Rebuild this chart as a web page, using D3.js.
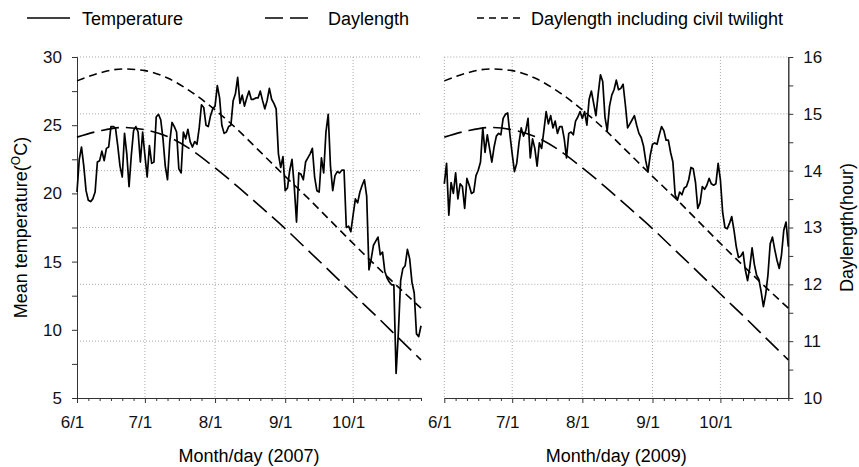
<!DOCTYPE html>
<html>
<head>
<meta charset="utf-8">
<script src="https://cdn.jsdelivr.net/npm/d3@7"></script>
<style>
  body { margin: 0; background: #fff; }
  svg { font-family: Arial, "Liberation Sans", sans-serif; }
  .axis path, .axis line { stroke: #333; }
  .axis text { font-size: 17px; fill: #111; font-family: Arial, "Liberation Sans", sans-serif; }
</style>
</head>
<body>
<div id="chart"></div>
<script>

// daily mean temperature, 6/1 .. 10/31
const temp2007 = [
    20.1, 22.5, 23.4, 22.0, 20.2, 19.5, 19.4, 19.6, 20.1, 22.3,
    22.4, 23.1, 22.4, 23.3, 23.4, 24.9, 24.9, 24.8, 23.5, 22.0,
    21.2, 24.4, 22.9, 20.5, 22.8, 24.6, 24.9, 24.5, 22.3, 24.5,
    22.8, 21.2, 23.5, 22.2, 22.3, 25.6, 25.8, 25.4, 24.0, 22.0,
    21.0, 23.8, 25.2, 24.9, 24.5, 21.8, 21.5, 24.5, 24.0, 24.7,
    23.8, 23.4, 23.8, 23.6, 24.8, 26.5, 26.3, 25.0, 24.9, 25.7,
    26.2, 26.4, 27.9, 27.0, 25.0, 24.4, 24.5, 24.9, 25.0, 26.8,
    27.3, 28.5, 26.6, 27.2, 26.4, 27.0, 27.5, 26.9, 26.9, 27.0,
    27.0, 27.5, 26.8, 26.2, 26.8, 27.7, 26.9, 26.6, 26.2, 22.9,
    21.9, 22.7, 20.2, 20.4, 21.7, 22.5, 20.5, 17.9, 21.5, 21.4,
    21.0, 22.3, 22.6, 22.9, 23.3, 21.2, 20.2, 20.1, 22.6, 21.5,
    24.5, 25.8, 22.0, 20.2, 21.3, 21.6, 21.5, 21.7, 21.7, 17.5,
    17.6, 17.2, 18.4, 19.6, 19.3, 20.1, 20.6, 21.0, 19.8, 14.4,
    15.2, 16.2, 16.5, 16.8, 15.5, 15.7, 14.3, 13.8, 13.5, 13.3,
    13.3, 6.8, 9.8, 13.6, 14.5, 14.7, 15.9, 15.2, 13.5, 12.7,
    9.7, 9.5, 10.3
];

const temp2009 = [
    20.7, 22.2, 18.4, 20.8, 20.0, 21.5, 19.6, 20.7, 20.5, 18.9,
    21.1, 20.6, 20.0, 20.1, 21.3, 21.7, 22.3, 24.8, 23.0, 24.3,
    23.3, 22.3, 23.4, 24.2, 24.4, 24.3, 25.5, 25.8, 25.9, 24.3,
    22.9, 21.6, 22.2, 23.7, 24.8, 24.2, 24.6, 25.5, 22.6, 24.0,
    23.3, 22.0, 23.7, 23.3, 24.6, 26.0, 25.1, 25.7, 24.8, 25.3,
    24.4, 24.9, 24.9, 24.0, 22.6, 24.4, 24.5, 24.3, 25.3, 25.6,
    26.0, 25.5, 26.0, 25.0, 26.9, 27.5, 26.6, 25.7, 27.3, 28.7,
    28.2, 25.6, 24.6, 26.4, 27.2, 27.6, 28.3, 27.6, 27.7, 28.0,
    26.5, 24.8, 25.1, 25.4, 25.7, 25.0, 24.4, 24.1, 23.5, 22.4,
    21.6, 22.8, 23.6, 23.7, 23.6, 24.3, 24.9, 24.6, 23.9, 23.9,
    23.0, 22.3, 19.9, 19.5, 20.1, 19.9, 20.4, 20.5, 21.0, 21.9,
    21.8, 20.8, 18.9, 19.3, 20.5, 20.3, 20.6, 21.1, 20.7, 20.6,
    20.7, 22.2, 21.0, 18.6, 17.5, 17.4, 17.8, 18.3, 17.3, 16.1,
    15.3, 15.4, 15.7, 14.4, 13.6, 14.6, 16.0, 14.8, 14.0, 13.7,
    12.8, 11.7, 12.6, 14.0, 16.3, 16.8, 15.9, 15.1, 14.5, 15.5,
    17.3, 17.9, 16.1
];

// daylength (hour), read every 10 days
const dayDates = ['6/1', '6/11', '6/21', '7/1', '7/11', '7/21', '8/1', '8/11',
    '8/21', '9/1', '9/11', '9/21', '10/1', '10/11', '10/21', '10/31'];
const daylength = [14.59, 14.70, 14.76, 14.72, 14.60, 14.38, 14.05, 13.72,
    13.37, 12.98, 12.60, 12.22, 11.83, 11.45, 11.06, 10.67];
const civilTwilight = [15.58, 15.72, 15.79, 15.76, 15.63, 15.40, 15.07, 14.72,
    14.33, 13.90, 13.52, 13.12, 12.72, 12.33, 11.95, 11.58];

const monthTicks = ['6/1', '7/1', '8/1', '9/1', '10/1'];
const tempTicks = [5, 10, 15, 20, 25, 30];
const tempMinor = [7.5, 12.5, 17.5, 22.5, 27.5];
const hourTicks = [10, 11, 12, 13, 14, 15, 16];
const hourMinor = [10.5, 11.5, 12.5, 13.5, 14.5, 15.5];

const W = 859, H = 467;
const plotTop = 57, height = 341, pw = 344;
const panels = [
    {year: 2007, left: 77, temp: temp2007},
    {year: 2009, left: 444.3, temp: temp2009}
];

const svg = d3.select('#chart').append('svg')
    .attr('width', W)
    .attr('height', H);

const yT = d3.scaleLinear().domain([5, 30]).range([height, 0]);
const yH = d3.scaleLinear().domain([10, 16]).range([height, 0]);

function md(s, year) {
    let p = s.split('/');
    return new Date(year, +p[0] - 1, +p[1]);
}

panels.forEach(function(p, pi) {
    const g = svg.append('g').attr('transform', `translate(${p.left}, ${plotTop})`);
    const start = new Date(p.year, 5, 1);
    const x = d3.scaleTime()
        .domain([start, new Date(p.year, 9, 31)])
        .range([0, pw]);
    const months = monthTicks.map(s => md(s, p.year));

    // grid (horizontal lines follow the daylength axis)
    g.append('g').selectAll('line.h')
        .data(hourTicks.filter(h => h > 10))
        .enter().append('line')
        .attr('x1', 0).attr('x2', pw)
        .attr('y1', d => yH(d)).attr('y2', d => yH(d))
        .style('stroke', '#aaa').style('stroke-dasharray', '1,2');
    g.append('g').selectAll('line.v')
        .data(pi == 0 ? months.slice(1) : months)
        .enter().append('line')
        .attr('x1', d => x(d)).attr('x2', d => x(d))
        .attr('y1', 0).attr('y2', height)
        .style('stroke', '#aaa').style('stroke-dasharray', '1,2');

    // minor x ticks every 5 days inside each month
    let minor = [];
    months.forEach(function(m) {
        for (let k = 5; k <= 25; k += 5) minor.push(d3.timeDay.offset(m, k));
    });
    minor.push(new Date(p.year, 9, 31));

    g.append('g')
        .attr('class', 'axis')
        .attr('transform', `translate(0, ${height})`)
        .call(d3.axisBottom(x).tickValues(minor).tickSize(3).tickFormat('').tickSizeOuter(0));
    g.append('g')
        .attr('class', 'axis')
        .attr('transform', `translate(0, ${height})`)
        .call(d3.axisBottom(x).tickValues(months).tickSize(5).tickSizeOuter(0)
            .tickFormat((d, i) => monthTicks[i]))
        .selectAll('text').attr('dx', '-5').attr('dy', '1.3em');

    g.append('text')
        .attr('x', pw / 2).attr('y', 405)
        .attr('text-anchor', 'middle')
        .style('font-size', '18px')
        .text(`Month/day (${p.year})`);

    if (pi == 0) {
        g.append('g').attr('class', 'axis')
            .call(d3.axisLeft(yT).tickValues(tempMinor).tickSize(5).tickFormat('').tickSizeOuter(0));
        g.append('g').attr('class', 'axis')
            .call(d3.axisLeft(yT).tickValues(tempTicks).tickSize(5).tickSizeOuter(0).tickPadding(10));
        const t = svg.append('text')
            .attr('transform', `translate(27, ${plotTop + height / 2}) rotate(-90)`)
            .attr('text-anchor', 'middle')
            .style('font-size', '18px');
        t.append('tspan').text('Mean temperature(');
        t.append('tspan').text('O').style('font-size', '12px').attr('dy', '-7');
        t.append('tspan').text('C)').attr('dy', '7');
    } else {
        g.append('g').attr('class', 'axis')
            .attr('transform', `translate(${pw}, 0)`)
            .call(d3.axisRight(yH).tickValues(hourMinor).tickSize(5).tickFormat('').tickSizeOuter(0));
        g.append('g').attr('class', 'axis')
            .attr('transform', `translate(${pw}, 0)`)
            .call(d3.axisRight(yH).tickValues(hourTicks).tickSize(5).tickSizeOuter(0)
                .tickPadding(10).tickFormat(d3.format('d')));
        svg.append('text')
            .attr('transform', `translate(853, ${plotTop + height / 2}) rotate(-90)`)
            .attr('text-anchor', 'middle')
            .style('font-size', '18px')
            .text('Daylength(hour)');
    }

    // daylength curves
    const hourLine = d3.line()
        .x((d, i) => x(md(dayDates[i], p.year)))
        .y(d => yH(d))
        .curve(d3.curveMonotoneX);
    g.append('path')
        .attr('d', hourLine(daylength))
        .style('fill', 'none').style('stroke', '#000')
        .style('stroke-width', 1.6).style('stroke-dasharray', '18,7');
    g.append('path')
        .attr('d', hourLine(civilTwilight))
        .style('fill', 'none').style('stroke', '#000')
        .style('stroke-width', 1.6).style('stroke-dasharray', '8,5');

    // temperature
    const tempLine = d3.line()
        .x((d, i) => x(d3.timeDay.offset(start, i)))
        .y(d => yT(d));
    g.append('path')
        .attr('d', tempLine(p.temp))
        .style('fill', 'none').style('stroke', '#000')
        .style('stroke-width', 1.7).style('stroke-linejoin', 'round');
});

// legend
const legend = [
    {name: 'Temperature', dash: null, x: 27, tx: 82},
    {name: 'Daylength', dash: '18,7', x: 265, tx: 328},
    {name: 'Daylength including civil twilight', dash: '7,5', x: 477, tx: 531}
];
legend.forEach(function(l) {
    svg.append('line')
        .attr('x1', l.x).attr('x2', l.x + 43)
        .attr('y1', 18).attr('y2', 18)
        .style('stroke', '#000').style('stroke-width', 1.6)
        .style('stroke-dasharray', l.dash);
    svg.append('text')
        .attr('x', l.tx).attr('y', 25)
        .style('font-size', '18px')
        .text(l.name);
});

</script>
</body>
</html>
